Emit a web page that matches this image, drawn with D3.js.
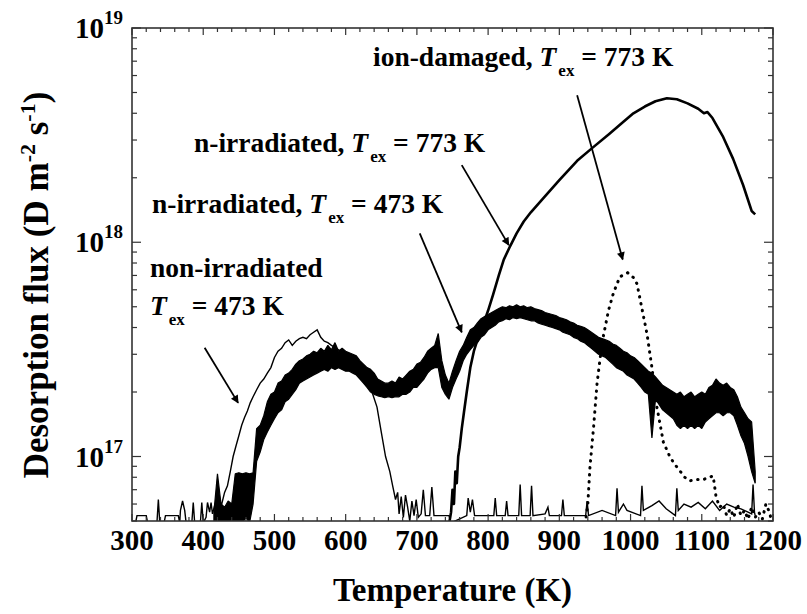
<!DOCTYPE html>
<html><head><meta charset="utf-8">
<script src="https://cdn.jsdelivr.net/npm/d3@7"></script>
<style>
body{margin:0;background:#fff}
</style>
</head><body>
<svg id="chart" width="807" height="614" font-family="Liberation Serif" font-weight="bold"></svg>
<script>
// ---------- DATA (flux in units of 1e17 D m^-2 s^-1) ----------
const UNIT = 1e17;
const xTickLabels = [300,400,500,600,700,800,900,1000,1100,1200];
const yTickExps = [17,18,19];

// non-irradiated, Tex = 473 K (thin line)
const nonIrrT = [300,305,307,320,322,335,337,339,345,347,365,367,368,371,374,376,384,386,388,396,398,400,404,406,409,411,413,416,419,422,426,430,434,438,442,446,450,454,458,462,466,470,475,480,485,490,495,500,505,510,515,520,525,530,535,540,545,550,555,560,565,570,575,580,590,600,610,620,630,637,644,650,656,662,666,670,673,675,678,681,684,687,690,693,696,699,702,706,709,712,718,721,724,745,748,770,772,775,778,781,790,808,810,812,824,826,828,843,845,847,859,861,863,880,884,886,903,905,907,937,939,941,960,979,981,983,990,995,1014,1016,1018,1030,1040,1050,1063,1065,1067,1075,1085,1095,1105,1115,1125,1135,1145,1155,1165,1170,1172,1174,1175];
const nonIrrV = [0.49,0.49,0.53,0.53,0.49,0.49,0.63,0.49,0.49,0.53,0.53,0.49,0.56,0.62,0.56,0.49,0.49,0.61,0.49,0.49,0.61,0.49,0.52,0.61,0.55,0.61,0.54,0.59,0.55,0.62,0.60,0.68,0.73,0.85,1.0,1.12,1.25,1.40,1.52,1.63,1.78,1.90,2.05,2.20,2.30,2.45,2.60,2.90,3.10,3.20,3.40,3.50,3.30,3.45,3.55,3.60,3.55,3.70,3.80,3.90,3.60,3.45,3.40,3.30,3.15,3.00,2.90,2.65,2.35,2.00,1.70,1.30,1.00,0.85,0.73,0.63,0.68,0.54,0.65,0.52,0.66,0.58,0.50,0.62,0.53,0.63,0.52,0.54,0.70,0.53,0.53,0.72,0.53,0.53,0.49,0.53,0.64,0.55,0.63,0.53,0.53,0.53,0.64,0.53,0.53,0.62,0.53,0.53,0.74,0.53,0.53,0.73,0.53,0.54,0.58,0.53,0.53,0.63,0.53,0.53,0.62,0.53,0.56,0.53,0.71,0.55,0.60,0.56,0.53,0.73,0.56,0.59,0.62,0.57,0.53,0.71,0.56,0.60,0.58,0.61,0.57,0.62,0.56,0.60,0.58,0.57,0.55,0.54,0.74,0.55,0.53];

// n-irradiated, Tex = 473 K (noisy band: lower / upper envelope)
const n473T = [415,420,425,430,435,440,445,450,455,460,465,470,475,480,485,490,495,500,505,510,515,520,525,530,535,540,545,550,555,560,565,570,575,580,585,590,595,600,605,610,615,620,625,630,635,640,645,650,655,660,665,670,675,680,685,690,695,700,705,710,715,720,725,730,735,740,745,750,755,760,765,770,775,780,785,790,795,800,805,810,815,820,825,830,835,840,845,850,855,860,865,870,875,880,885,890,895,900,905,910,915,920,925,930,935,940,945,950,955,960,965,970,975,980,985,990,995,1000,1005,1010,1015,1020,1025,1030,1035,1040,1045,1050,1055,1060,1065,1070,1075,1080,1085,1090,1095,1100,1105,1110,1115,1120,1125,1130,1135,1140,1145,1150,1155,1160,1165,1170,1175];
const n473Lo = [0.49,0.49,0.49,0.49,0.49,0.49,0.49,0.50,0.49,0.52,0.49,0.60,0.95,1.05,1.20,1.30,1.40,1.50,1.60,1.65,1.80,1.85,1.95,2.05,2.20,2.25,2.30,2.35,2.40,2.45,2.50,2.55,2.50,2.60,2.55,2.60,2.55,2.50,2.50,2.45,2.40,2.30,2.20,2.10,2.00,1.95,1.92,1.90,1.88,1.90,1.88,1.90,1.90,1.95,1.95,2.00,2.10,2.10,2.20,2.30,2.45,2.55,2.60,2.60,2.10,1.95,1.85,2.10,2.30,2.50,2.80,3.00,3.15,3.30,3.40,3.60,3.70,3.90,4.00,4.10,4.25,4.30,4.40,4.35,4.45,4.40,4.45,4.40,4.35,4.30,4.30,4.20,4.15,4.10,4.05,4.00,3.95,3.90,3.80,3.75,3.70,3.60,3.55,3.45,3.40,3.30,3.20,3.10,3.00,2.95,2.90,2.80,2.70,2.60,2.55,2.50,2.40,2.35,2.30,2.20,2.10,2.00,1.95,1.22,1.85,1.75,1.65,1.60,1.55,1.50,1.40,1.35,1.40,1.35,1.40,1.35,1.40,1.35,1.45,1.50,1.55,1.60,1.60,1.55,1.60,1.60,1.55,1.40,1.25,1.15,1.00,0.85,0.75];
const n473Hi = [0.55,0.83,0.60,0.58,0.62,0.60,0.83,0.84,0.83,0.84,0.83,0.84,1.35,1.40,1.55,1.80,1.95,2.00,2.20,2.25,2.40,2.45,2.55,2.70,2.80,2.85,2.95,3.00,3.10,3.05,3.20,3.10,3.30,3.15,3.40,3.10,3.20,3.10,3.05,3.00,2.95,2.80,2.70,2.60,2.55,2.45,2.30,2.25,2.20,2.20,2.25,2.20,2.35,2.30,2.40,2.50,2.55,2.70,2.75,2.90,3.10,3.20,3.30,3.75,2.80,2.40,2.20,2.50,2.80,3.10,3.30,3.60,3.90,4.00,4.20,4.40,4.50,4.60,4.70,4.80,4.90,5.00,4.95,5.05,5.00,5.10,5.00,5.05,4.95,5.00,4.90,4.85,4.80,4.70,4.65,4.60,4.55,4.45,4.40,4.35,4.25,4.20,4.10,4.05,4.00,3.90,3.80,3.70,3.60,3.55,3.50,3.45,3.35,3.30,3.20,3.10,3.05,2.95,2.90,2.80,2.70,2.60,2.50,2.45,2.35,2.25,2.15,2.10,2.05,2.00,1.95,2.00,1.90,1.95,2.00,1.90,1.95,2.00,1.95,2.10,2.15,2.30,2.20,2.15,2.20,2.10,2.05,1.90,1.70,1.60,1.50,1.45,0.85];

// n-irradiated, Tex = 773 K (thick line)
const n773T = [300,745,748,750,752,754,756,758,760,763,766,770,775,780,785,790,795,800,807,815,822,831,840,850,860,877,900,925,946,970,990,1004,1020,1035,1051,1065,1080,1095,1103,1108,1115,1130,1144,1158,1170,1175];
const n773V = [0.48,0.48,0.55,0.70,0.60,0.85,0.75,1.00,1.10,1.35,1.60,2.00,2.60,3.10,3.50,3.90,4.30,4.80,5.70,7.00,8.30,9.60,11.0,12.5,13.8,16.0,19.5,24.0,27.5,32.0,36.5,40.0,43.0,45.5,47.0,46.5,44.5,42.0,40.0,40.5,38.0,31.0,24.5,18.5,14.0,13.5];

// ion-damaged, Tex = 773 K (dotted line)
const ionT = [935,940,943,948,953,960,969,976,985,996,1005,1009,1013,1016,1023,1030,1037,1046,1055,1062,1069,1076,1083,1092,1102,1110,1116,1120,1125,1130,1135,1140,1145,1150,1155,1160,1165,1170,1175,1180,1185,1190,1195,1198];
const ionV = [0.45,0.60,0.89,1.36,2.20,3.40,4.80,5.80,6.90,7.20,6.80,6.40,5.50,4.90,3.75,2.60,1.70,1.17,1.00,0.92,0.86,0.80,0.77,0.78,0.78,0.80,0.81,0.65,0.58,0.60,0.53,0.57,0.52,0.60,0.53,0.56,0.51,0.58,0.52,0.55,0.51,0.60,0.55,0.50];

// annotation texts
const annotations = [
  {pre:"ion-damaged, ", post:" = 773 K", x:373, y:66},
  {pre:"n-irradiated, ", post:" = 773 K", x:194, y:152},
  {pre:"n-irradiated, ", post:" = 473 K", x:152, y:213},
  {pre:"non-irradiated", post:null, x:150, y:277},
  {pre:"", post:" = 473 K", x:150, y:315}
];
// arrows [T start, flux start, T end, flux end]
const arrows = [
  [925, 48.6, 989, 8.3],   // ion-damaged
  [763, 22.9, 829, 9.7],   // n-irr 773
  [704, 11.0, 763, 3.8],   // n-irr 473
  [402, 3.22, 449, 1.78]   // non-irr
];

// ---------- CHART ----------
const svg = d3.select("#chart");
const L = 132, R = 773, T = 28, B = 521;
const x = d3.scaleLinear().domain([300,1200]).range([L,R]);
const y = d3.scaleLog().domain([5e16,1e19]).range([B,T]);
const yv = v => y(v*UNIT);

const defs = svg.append("defs");
defs.append("clipPath").attr("id","clip")
  .append("rect").attr("x",L).attr("y",T).attr("width",R-L).attr("height",B-T);
defs.append("marker").attr("id","ah").attr("viewBox","0 0 10 10")
  .attr("refX",9).attr("refY",5).attr("markerWidth",11).attr("markerHeight",8)
  .attr("markerUnits","userSpaceOnUse").attr("orient","auto")
  .append("path").attr("d","M0,0 L10,5 L0,10 z").attr("fill","#000");

const plot = svg.append("g").attr("clip-path","url(#clip)");

// n-irr 473 band
const band = n473T.map((t,i)=>({t, lo:n473Lo[i], hi:n473Hi[i]}));
plot.append("path").datum(band)
  .attr("d", d3.area().x(d=>x(d.t)).y0(d=>yv(d.lo)).y1(d=>yv(d.hi)))
  .attr("fill","#000").attr("stroke","#000").attr("stroke-width",1.2).attr("stroke-linejoin","bevel");

// non-irradiated thin line
plot.append("path").datum(nonIrrT.map((t,i)=>[t,nonIrrV[i]]))
  .attr("d", d3.line().x(d=>x(d[0])).y(d=>yv(d[1])))
  .attr("fill","none").attr("stroke","#000").attr("stroke-width",1.4);

// n-irr 773 thick line
plot.append("path").datum(n773T.map((t,i)=>[t,n773V[i]]))
  .attr("d", d3.line().x(d=>x(d[0])).y(d=>yv(d[1])))
  .attr("fill","none").attr("stroke","#000").attr("stroke-width",2.6).attr("stroke-linejoin","round");

// ion-damaged dotted
plot.append("path").datum(ionT.map((t,i)=>[t,ionV[i]]))
  .attr("d", d3.line().x(d=>x(d[0])).y(d=>yv(d[1])))
  .attr("fill","none").attr("stroke","#000").attr("stroke-width",3)
  .attr("stroke-linecap","round").attr("stroke-dasharray","0.5,6.5");

// frame
svg.append("rect").attr("x",L).attr("y",T).attr("width",R-L).attr("height",B-T)
  .attr("fill","none").attr("stroke","#333").attr("stroke-width",1.6);

// x ticks (every 20 K), inward on bottom and top
d3.range(300,1201,20).forEach(t=>{
  const len = (t%100===0)?7:4;
  svg.append("line").attr("x1",x(t)).attr("x2",x(t)).attr("y1",B).attr("y2",B-len).attr("stroke","#333").attr("stroke-width",1.2);
  svg.append("line").attr("x1",x(t)).attr("x2",x(t)).attr("y1",T).attr("y2",T+len).attr("stroke","#333").attr("stroke-width",1.2);
});
// y ticks (log: 1..9 per decade)
const yT = [];
[16,17,18].forEach(e=>{ for(let m=1;m<=9;m++){ const v=m*Math.pow(10,e); if(v>=5e16 && v<=1e19) yT.push([v,m===1]); } });
yT.push([1e19,true]);
yT.forEach(([v,maj])=>{
  const len = maj?9:5;
  svg.append("line").attr("x1",L).attr("x2",L+len).attr("y1",y(v)).attr("y2",y(v)).attr("stroke","#333").attr("stroke-width",1.2);
  svg.append("line").attr("x1",R).attr("x2",R-len).attr("y1",y(v)).attr("y2",y(v)).attr("stroke","#333").attr("stroke-width",1.2);
});

// x tick labels
svg.selectAll(".xl").data(xTickLabels).enter().append("text")
  .attr("x",d=>x(d)).attr("y",550).attr("text-anchor","middle")
  .attr("font-size",29).text(d=>d);

// y tick labels 10^n
yTickExps.forEach(e=>{
  const tx = svg.append("text").attr("x",123).attr("y",y(Math.pow(10,e))+10)
    .attr("text-anchor","end").attr("font-size",29);
  tx.append("tspan").text("10");
  tx.append("tspan").attr("dy",-14).attr("font-size",19).text(e);
});

// axis titles
svg.append("text").attr("x",(L+R)/2).attr("y",601).attr("text-anchor","middle")
  .attr("font-size",33).text("Temperature (K)");
const yt = svg.append("text").attr("transform","translate(48,285) rotate(-90)")
  .attr("text-anchor","middle").attr("font-size",35);
yt.append("tspan").text("Desorption flux (D m");
yt.append("tspan").attr("dy",-13).attr("font-size",22).text("-2");
yt.append("tspan").attr("dy",13).text(" s");
yt.append("tspan").attr("dy",-13).attr("font-size",22).text("-1");
yt.append("tspan").attr("dy",13).text(")");

// annotations
annotations.forEach(a=>{
  const t = svg.append("text").attr("x",a.x).attr("y",a.y).attr("font-size",27.5);
  if(a.pre) t.append("tspan").text(a.pre);
  if(a.post!==null){
    t.append("tspan").attr("font-style","italic").text("T");
    t.append("tspan").attr("dy",10).attr("dx",2).attr("font-size",17).text("ex");
    t.append("tspan").attr("dy",-10).text(a.post);
  }
});

// arrows
arrows.forEach(a=>{
  svg.append("line").attr("x1",x(a[0])).attr("y1",yv(a[1])).attr("x2",x(a[2])).attr("y2",yv(a[3]))
    .attr("stroke","#000").attr("stroke-width",1.8).attr("marker-end","url(#ah)");
});
</script>
</body></html>
